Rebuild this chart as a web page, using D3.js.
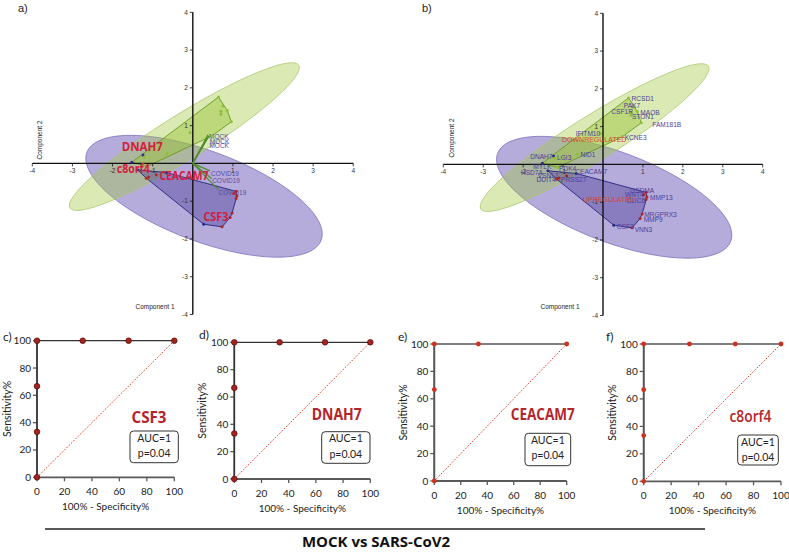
<!DOCTYPE html>
<html><head><meta charset="utf-8">
<script src="https://cdn.jsdelivr.net/npm/d3@7"></script>
<style>body{margin:0;background:#fff}svg{display:block}</style>
</head><body>
<svg id="chart" width="789" height="552"></svg>
<script>
// ---------------- DATA ----------------
const biplotTicks = [-4, -3, -2, -1, 1, 2, 3, 4];

const downGenes = ["RCSD1","PAK7","CSF1R","MAOB","STON1","FAM181B","KCNE3","IFITM10","NID1","DNAH7","LGI3","MYLK","PDK4"];
const downX     = [0.64, 0.75, 0.70, 0.86, 0.70, 0.96, 0.48, -0.07, -0.64, -1.24, -1.20, -1.52, -1.14];
const downY     = [1.76, 1.52, 1.38, 1.40, 1.30, 1.10, 0.73, 0.82, 0.27, 0.22, 0.17, 0.03, -0.08];

const upGenes = ["GSDMA","WNT4","MMP13","CLIC6","MRGPRX3","MMP9","VNN3","CSF3","CEACAM7","VSNL1","PRSS27","DDIT4","HSD7A"];
const upX     = [1.08, 1.02, 1.10, 1.08, 0.98, 0.93, 0.73, 0.27, -0.67, -0.91, -1.10, -1.16, -1.38];
const upY     = [-0.74, -0.80, -0.86, -0.93, -1.31, -1.43, -1.68, -1.61, -0.24, -0.30, -0.36, -0.39, -0.17];

const loadingLabels = ["MOCK","MOCK","MOCK","COVID19","COVID19","COVID19"];
const loadingX = [0.38, 0.40, 0.35, 0.43, 0.47, 0.64];
const loadingY = [0.76, 0.72, 0.68, -0.20, -0.40, -0.70];

const ellipseDownCenter = [-0.21, 0.71];
const ellipseDownAxisA  = [2.85, 1.89];
const ellipseDownAxisB  = [0.30, -0.50];
const ellipseUpCenter   = [0.28, -0.87];
const ellipseUpAxisA    = [2.92, -1.16];
const ellipseUpAxisB    = [-0.39, -1.12];

const groupLabels = ["DOWNREGULATED", "UPREGULATED"];
const groupLabelX = [-0.22, 0.15];
const groupLabelY = [0.66, -0.92];

const featuredGenes = ["DNAH7", "c8orf4", "CEACAM7", "CSF3"];
const featuredX = [-1.77, -1.895, -0.833, 0.264];
const featuredY = [0.325, -0.243, -0.442, -1.513];

const rocTicks = [0, 20, 40, 60, 80, 100];
const rocGenes = ["CSF3", "DNAH7", "CEACAM7", "c8orf4"];
const rocFprCSF3 = [0, 0, 0, 0, 33.3, 66.7, 100];
const rocTprCSF3 = [0, 33.3, 66.7, 100, 100, 100, 100];
const rocFprDNAH7 = [0, 0, 0, 0, 33.3, 66.7, 100];
const rocTprDNAH7 = [0, 33.3, 66.7, 100, 100, 100, 100];
const rocFprCEACAM7 = [0, 0, 0, 33.3, 100];
const rocTprCEACAM7 = [0, 66.7, 100, 100, 100];
const rocFprC8orf4 = [0, 0, 0, 0, 33.3, 66.7, 100];
const rocTprC8orf4 = [0, 33.3, 66.7, 100, 100, 100, 100];
const aucValues = [1, 1, 1, 1];
const pValues = ["0.04", "0.04", "0.04", "0.04"];

const bottomTitle = "MOCK vs SARS-CoV2";

// ---------------- LAYOUT / STYLE ----------------
const svg = d3.select("#chart");
const SANS = "'Liberation Sans', Arial, sans-serif";
const HUM = "Lato, 'Open Sans', sans-serif";

// label placement for panel b: [anchor, dx, dy]
const labelPlace = {
  RCSD1:["start",3,3], PAK7:["middle",-1,1], CSF1R:["end",2,2], MAOB:["start",3,3.5],
  STON1:["start",1,4], FAM181B:["start",11,4.5], KCNE3:["start",2.5,3.5], IFITM10:["end",0,3],
  NID1:["start",3,3], DNAH7:["end",-1,2.5], LGI3:["start",2,2], MYLK:["middle",0,6],
  PDK4:["start",1.5,3.5], GSDMA:["middle",-4,0.5], WNT4:["end",0,2.5], MMP13:["start",3,3],
  CLIC6:["end",-1,3], MRGPRX3:["start",2,3.5], MMP9:["start",3.5,3.5], VNN3:["start",2.5,4],
  CSF3:["start",3,4], CEACAM7:["start",-1,0.5], VSNL1:["end",-8,2.5], PRSS27:["start",2,4.5],
  DDIT4:["end",-1,3], HSD7A:["end",-5,4]
};
const blueGenes = new Set(["DNAH7","HSD7A","CSF3","CEACAM7","MYLK"]);
const loadLabelOffset = [[1,4.6],[1,7.4],[2.6,10.2],[1,5],[0.5,4],[0,5.5]];
const featuredWidth = [41, 33, 49, 25];

function ellipsePts(c, a, b) {
  return d3.range(0, 144).map(i => {
    const t = i / 144 * 2 * Math.PI;
    return [c[0] + a[0]*Math.cos(t) + b[0]*Math.sin(t), c[1] + a[1]*Math.cos(t) + b[1]*Math.sin(t)];
  });
}

function drawBiplot(opt) {
  const g = svg.append("g");
  const xs = d3.scaleLinear().domain([-4, 4]).range(opt.xr);
  const ys = d3.scaleLinear().domain([-4, 4]).range(opt.yr);
  const line = d3.line().x(d => xs(d[0])).y(d => ys(d[1])).curve(d3.curveLinearClosed);

  g.append("path").attr("d", line(ellipsePts(ellipseUpCenter, ellipseUpAxisA, ellipseUpAxisB)))
    .attr("fill", "rgb(90,70,175)").attr("fill-opacity", 0.45)
    .attr("stroke", "#7d6fbf").attr("stroke-width", 0.8);
  g.append("path").attr("d", line(ellipsePts(ellipseDownCenter, ellipseDownAxisA, ellipseDownAxisB)))
    .attr("fill", "rgb(160,200,60)").attr("fill-opacity", 0.38)
    .attr("stroke", "#a9c86a").attr("stroke-width", 0.8);

  const downPx = downX.map((x, i) => [xs(x), ys(downY[i])]);
  const upPx = upX.map((x, i) => [xs(x), ys(upY[i])]);
  g.append("path").attr("d", "M" + d3.polygonHull(downPx).join("L") + "Z")
    .attr("fill", "rgb(150,195,50)").attr("fill-opacity", 0.45)
    .attr("stroke", "#6a9a20").attr("stroke-width", 0.9);
  g.append("path").attr("d", "M" + d3.polygonHull(upPx).join("L") + "Z")
    .attr("fill", "rgb(55,35,140)").attr("fill-opacity", 0.35)
    .attr("stroke", "#262680").attr("stroke-width", 0.9);

  const x0 = xs(0), y0 = ys(0);
  g.append("line").attr("x1", xs(-4)).attr("x2", xs(4)).attr("y1", y0).attr("y2", y0)
    .attr("stroke", "#111").attr("stroke-width", 1.4);
  g.append("line").attr("x1", x0).attr("x2", x0).attr("y1", ys(4)).attr("y2", ys(-4))
    .attr("stroke", "#111").attr("stroke-width", 1.4);
  biplotTicks.forEach(t => {
    g.append("line").attr("x1", xs(t)).attr("x2", xs(t)).attr("y1", y0).attr("y2", y0 + 3)
      .attr("stroke", "#111").attr("stroke-width", 0.8);
    g.append("text").attr("x", xs(t)).attr("y", y0 + 9.5).attr("text-anchor", "middle")
      .attr("font-family", SANS).attr("font-size", 6.5).attr("fill", "#333").text(t);
    g.append("line").attr("x1", x0 - 3).attr("x2", x0).attr("y1", ys(t)).attr("y2", ys(t))
      .attr("stroke", "#111").attr("stroke-width", 0.8);
    g.append("text").attr("x", x0 - 5).attr("y", ys(t) + 2.3).attr("text-anchor", "end")
      .attr("font-family", SANS).attr("font-size", 6.5).attr("fill", "#333").text(t);
  });
  g.append("text").attr("x", opt.c1[0]).attr("y", opt.c1[1]).attr("text-anchor", "middle")
    .attr("font-family", SANS).attr("font-size", 6.5).attr("fill", "#222").text("Component 1");
  g.append("text").attr("transform", `translate(${opt.c2[0]},${opt.c2[1]}) rotate(-90)`)
    .attr("text-anchor", "middle").attr("font-family", SANS).attr("font-size", 6.5)
    .attr("fill", "#222").text("Component 2");
  g.append("text").attr("x", opt.tag[0]).attr("y", opt.tag[1]).attr("font-family", SANS)
    .attr("font-size", 11).attr("fill", "#222").text(opt.tagText);

  if (opt.loadings) {
    loadingX.forEach((lx, i) => {
      g.append("line").attr("x1", x0).attr("y1", y0).attr("x2", xs(lx)).attr("y2", ys(loadingY[i]))
        .attr("stroke", "#4f8f2a").attr("stroke-width", 1.3);
    });
    loadingX.forEach((lx, i) => {
      g.append("text").attr("x", xs(lx) + loadLabelOffset[i][0]).attr("y", ys(loadingY[i]) + loadLabelOffset[i][1])
        .attr("font-family", SANS).attr("font-size", 6.5).attr("fill", "#5a4aa0").text(loadingLabels[i]);
    });
  }

  const pts = downGenes.map((n, i) => ({n, x: downX[i], y: downY[i], grp: "d"}))
    .concat(upGenes.map((n, i) => ({n, x: upX[i], y: upY[i], grp: "u"})));
  pts.forEach(p => {
    const col = blueGenes.has(p.n) ? "#2a2a90" : (p.grp === "d" ? "#8fc03a" : "#b3261e");
    g.append("circle").attr("cx", xs(p.x)).attr("cy", ys(p.y)).attr("r", 1.5).attr("fill", col);
  });

  if (opt.geneLabels) {
    pts.forEach(p => {
      const pl = labelPlace[p.n] || ["start", 3, 3];
      g.append("text").attr("x", xs(p.x) + pl[1]).attr("y", ys(p.y) + pl[2]).attr("text-anchor", pl[0])
        .attr("font-family", SANS).attr("font-size", 6.6).attr("fill", "#4b3f9a").text(p.n);
    });
    groupLabels.forEach((t, i) => {
      g.append("text").attr("x", xs(groupLabelX[i])).attr("y", ys(groupLabelY[i]) + 2.5)
        .attr("text-anchor", "middle").attr("font-family", SANS).attr("font-size", 7)
        .attr("fill", "#d9452b").text(t);
    });
  }
  if (opt.featured) {
    featuredGenes.forEach((t, i) => {
      g.append("text").attr("x", xs(featuredX[i])).attr("y", ys(featuredY[i]))
        .attr("font-family", "'Open Sans', sans-serif").attr("font-weight", "bold").attr("font-size", 13)
        .attr("textLength", featuredWidth[i]).attr("lengthAdjust", "spacingAndGlyphs")
        .attr("fill", "#d3203f").text(t);
    });
  }
}

drawBiplot({xr: [32.3, 353.3], yr: [314.5, 12.3], c1: [155, 309], c2: [42, 140], tag: [18, 12], tagText: "a)",
  loadings: true, geneLabels: false, featured: true});
drawBiplot({xr: [443.3, 762.7], yr: [315.5, 13.3], c1: [560, 309], c2: [454, 138], tag: [422, 12], tagText: "b)",
  loadings: false, geneLabels: true, featured: false});

// ---------------- ROC panels ----------------
const rocData = [
  [rocFprCSF3, rocTprCSF3], [rocFprDNAH7, rocTprDNAH7], [rocFprCEACAM7, rocTprCEACAM7], [rocFprC8orf4, rocTprC8orf4]
];
const rocLayout = [
  {tag:"c)", tx:3, ty:341, x0:37, x1:174.3, yb:477.3, yt:340.7, sx:7, gx:149, gy:423, gw:35, gwt:"bold",
   box:[130,431,48.3,31.7], dark:true},
  {tag:"d)", tx:199, ty:339, x0:234.3, x1:370.3, yb:479, yt:342.3, sx:202, gx:336.7, gy:420, gw:50, gwt:"bold",
   box:[321.7,431.7,48.3,31.6], dark:true},
  {tag:"e)", tx:398, ty:341, x0:434.3, x1:566.7, yb:481, yt:344, sx:403.5, gx:542.8, gy:420, gw:64, gwt:"bold",
   box:[525,433.3,45.7,32.4], dark:false},
  {tag:"f)", tx:606, ty:341, x0:643.7, x1:781, yb:481.3, yt:344, sx:612, gx:750.5, gy:422, gw:42, gwt:"600",
   box:[737.7,435,40.6,30], dark:false}
];

rocLayout.forEach((L, k) => {
  const g = svg.append("g");
  const xs = d3.scaleLinear().domain([0, 100]).range([L.x0, L.x1]);
  const ys = d3.scaleLinear().domain([0, 100]).range([L.yb, L.yt]);
  const axCol = "#5a5a5a";
  g.append("line").attr("x1", xs(0)).attr("y1", ys(0)).attr("x2", xs(100)).attr("y2", ys(100))
    .attr("stroke", "#e33b22").attr("stroke-width", 1).attr("stroke-dasharray", "1.6,1.6");
  g.append("line").attr("x1", xs(0)).attr("x2", xs(100)).attr("y1", ys(0)).attr("y2", ys(0))
    .attr("stroke", axCol).attr("stroke-width", 1.8);
  g.append("line").attr("x1", xs(0)).attr("x2", xs(0)).attr("y1", ys(0)).attr("y2", ys(100))
    .attr("stroke", axCol).attr("stroke-width", 1.8);
  rocTicks.forEach(t => {
    g.append("line").attr("x1", xs(t)).attr("x2", xs(t)).attr("y1", ys(0)).attr("y2", ys(0) + 4)
      .attr("stroke", axCol).attr("stroke-width", 1.3);
    g.append("text").attr("x", xs(t)).attr("y", ys(0) + 18).attr("text-anchor", "middle")
      .attr("font-family", HUM).attr("font-size", 10).attr("fill", "#222").text(t);
    g.append("line").attr("x1", xs(0) - 4).attr("x2", xs(0)).attr("y1", ys(t)).attr("y2", ys(t))
      .attr("stroke", axCol).attr("stroke-width", 1.3);
    g.append("text").attr("x", xs(0) - 6).attr("y", ys(t) + 3.5).attr("text-anchor", "end")
      .attr("font-family", HUM).attr("font-size", 10).attr("fill", "#222").text(t);
  });
  const [fpr, tpr] = rocData[k];
  const pts = fpr.map((f, i) => [xs(f), ys(tpr[i])]);
  g.append("path").attr("d", d3.line()(pts)).attr("fill", "none")
    .attr("stroke", L.dark ? "#333" : "#555").attr("stroke-width", L.dark ? 1.3 : 1.5);
  pts.forEach(p => {
    g.append("circle").attr("cx", p[0]).attr("cy", p[1]).attr("r", L.dark ? 2.8 : 2.4)
      .attr("fill", L.dark ? "#a8231f" : "#d2301e")
      .attr("stroke", L.dark ? "#5a1010" : "none").attr("stroke-width", 0.8);
  });
  g.append("text").attr("x", L.tx).attr("y", L.ty).attr("font-family", HUM).attr("font-size", 12)
    .attr("fill", "#222").text(L.tag);
  g.append("text").attr("transform", `translate(${L.sx},${(L.yb + L.yt) / 2}) rotate(-90)`)
    .attr("text-anchor", "middle").attr("dy", "0.35em").attr("font-family", HUM).attr("font-size", 10.5)
    .attr("fill", "#222").text("Sensitivity%");
  g.append("text").attr("x", (L.x0 + L.x1) / 2).attr("y", L.yb + 33).attr("text-anchor", "middle")
    .attr("font-family", HUM).attr("font-size", 10).attr("fill", "#222").text("100% - Specificity%");
  g.append("text").attr("x", L.gx).attr("y", L.gy).attr("text-anchor", "middle")
    .attr("font-family", "'Open Sans', sans-serif").attr("font-weight", L.gwt).attr("font-size", 16)
    .attr("textLength", L.gw).attr("lengthAdjust", "spacingAndGlyphs")
    .attr("fill", "#b5242a").text(rocGenes[k]);
  const b = L.box;
  g.append("rect").attr("x", b[0]).attr("y", b[1]).attr("width", b[2]).attr("height", b[3])
    .attr("rx", 3.5).attr("fill", "#fff").attr("stroke", "#333").attr("stroke-width", 1);
  g.append("text").attr("x", b[0] + b[2] / 2).attr("y", b[1] + 10.5).attr("text-anchor", "middle")
    .attr("font-family", HUM).attr("font-size", 10.5).attr("fill", "#222").text("AUC=" + aucValues[k]);
  g.append("text").attr("x", b[0] + b[2] / 2).attr("y", b[1] + 26).attr("text-anchor", "middle")
    .attr("font-family", HUM).attr("font-size", 10.5).attr("fill", "#222").text("p=" + pValues[k]);
});

svg.append("line").attr("x1", 45).attr("x2", 705).attr("y1", 529).attr("y2", 529)
  .attr("stroke", "#222").attr("stroke-width", 1.3);
svg.append("text").attr("x", 376).attr("y", 547).attr("text-anchor", "middle")
  .attr("font-family", "'Open Sans', sans-serif").attr("font-weight", "bold").attr("font-size", 15)
  .attr("fill", "#111").text(bottomTitle);
</script>
</body></html>
